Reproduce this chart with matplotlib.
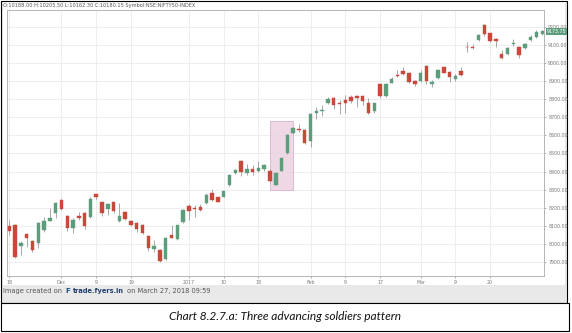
import matplotlib
matplotlib.use("Agg")
import matplotlib.pyplot as plt
from matplotlib.patches import Rectangle
import numpy as np

# ----------------------- DATA ----------------------- #
opens = [8099, 8103, 7988, 8053, 8014, 8007, 8077, 8128, 8169, 8244,
         8154, 8086, 8154, 8169, 8150, 8274, 8230, 8195, 8230, 8127,
         8178, 8128, 8114, 8104, 8044, 7970, 7966, 7915, 8049, 8027,
         8119, 8209, 8196, 8202, 8224, 8279, 8257, 8259, 8325, 8390,
         8458, 8390, 8414, 8401, 8416, 8405, 8327, 8405, 8500, 8611,
         8635, 8629, 8570, 8721, 8732, 8777, 8804, 8778, 8795, 8810,
         8819, 8817, 8777, 8736, 8883, 8817, 8891, 8934, 8955, 8946,
         8900, 8902, 8983, 8885, 8915, 8976, 8952, 8913, 8955, 9090,
         9088, 9127, 9209, 9163, 9134, 9047, 9047, 9103, 9090, 9081,
         9127, 9141, 9160]
highs = [8132, 8108, 8018, 8058, 8022, 8123, 8150, 8200, 8233, 8248,
         8160, 8141, 8178, 8178, 8257, 8278, 8233, 8224, 8232, 8224,
         8183, 8132, 8121, 8108, 8047, 8022, 7970, 8040, 8104, 8104,
         8191, 8219, 8215, 8220, 8279, 8301, 8261, 8294, 8386, 8414,
         8462, 8440, 8436, 8460, 8440, 8416, 8397, 8478, 8605, 8648,
         8662, 8633, 8721, 8758, 8767, 8814, 8814, 8795, 8823, 8823,
         8823, 8823, 8808, 8780, 8891, 8891, 8924, 8959, 8979, 8952,
         8906, 8961, 8988, 8906, 8964, 8979, 8955, 8937, 8976, 9117,
         9103, 9160, 9215, 9167, 9138, 9071, 9090, 9132, 9093, 9108,
         9154, 9182, 9182]
lows = [8049, 7920, 7939, 7981, 7955, 7976, 8068, 8126, 8141, 8187,
        8071, 8062, 8132, 8080, 8146, 8246, 8154, 8160, 8169, 8123,
        8132, 8099, 8068, 8055, 7963, 7957, 7898, 7911, 8031, 8021,
        8117, 8132, 8150, 8182, 8220, 8239, 8230, 8257, 8322, 8386,
        8375, 8379, 8379, 8399, 8405, 8344, 8325, 8401, 8497, 8609,
        8620, 8552, 8537, 8688, 8708, 8773, 8744, 8716, 8725, 8777,
        8758, 8767, 8718, 8725, 8804, 8813, 8887, 8920, 8933, 8891,
        8872, 8896, 8883, 8865, 8911, 8942, 8894, 8900, 8929, 9062,
        9079, 9123, 9150, 9117, 9090, 9022, 9044, 9095, 9025, 9077,
        9123, 9139, 9154]
closes = [8073, 7926, 8003, 8031, 7964, 8117, 8128, 8143, 8226, 8193,
          8086, 8130, 8141, 8101, 8248, 8261, 8169, 8222, 8180, 8156,
          8138, 8104, 8082, 8058, 7979, 7988, 7907, 8034, 8034, 8104,
          8187, 8180, 8191, 8189, 8272, 8242, 8233, 8290, 8381, 8408,
          8399, 8414, 8395, 8417, 8436, 8348, 8393, 8475, 8602, 8640,
          8629, 8559, 8716, 8734, 8742, 8801, 8767, 8771, 8777, 8791,
          8804, 8791, 8725, 8777, 8819, 8882, 8909, 8928, 8939, 8896,
          8882, 8946, 8900, 8896, 8961, 8946, 8924, 8928, 8933, 9086,
          9084, 9154, 9158, 9123, 9121, 9025, 9084, 9110, 9044, 9103,
          9145, 9172, 9173.75]

tick_idx = [0, 9, 15, 21, 31, 37, 43, 52, 58, 64, 71, 77, 83]
tick_labels = ["18", "Dec", "9", "19", "2017", "10", "18", "Feb", "9", "17",
               "Mar", "9", "20"]
price_ticks = list(range(7900, 9201, 100))
last_price = 9173.75

header = "O:10188.00 H:10205.50 L:10162.30 C:10180.15 Symbol:NSE:NIFTY50-INDEX"
caption = "Chart 8.2.7.a: Three advancing soldiers pattern"

# ----------------------- FIGURE ----------------------- #
W, H = 572, 333
fig = plt.figure(figsize=(W / 100, H / 100), dpi=100)
fig.patch.set_facecolor("white")


def px(x, y, w, h):
    """pixel box (top-left origin) -> figure fraction rect"""
    return [x / W, 1 - (y + h) / H, w / W, h / H]


# screenshot background + frames
bg = fig.add_axes([0, 0, 1, 1])
bg.set_xlim(0, W)
bg.set_ylim(H, 0)
bg.axis("off")
bg.add_patch(Rectangle((1, 1), 566, 302, facecolor="#e9e9e9", edgecolor="none"))
bg.add_patch(Rectangle((3, 2), 562, 283, facecolor="white", edgecolor="none"))
bg.add_patch(Rectangle((1, 1), 566, 302, facecolor="none", edgecolor="black", lw=0.8))
bg.add_patch(Rectangle((1, 303), 568, 28, facecolor="white", edgecolor="black", lw=0.8))
bg.text(3, 5.5, header, fontsize=3.6, color="#555555", va="center", ha="left")

# footer line, pieces placed one after another
renderer = fig.canvas.get_renderer()
footer = [("Image created on", "#555555", "normal", 4.8),
          ("F", "#1f4e8c", "bold", 5.2),
          ("trade.fyers.in", "#1f3f6e", "bold", 4.8),
          ("on March 27, 2018 09:59", "#555555", "normal", 4.8)]
fx = 3
for txt, col, wt, fs in footer:
    t = bg.text(fx, 291, txt, fontsize=fs, color=col, fontweight=wt, va="center")
    bb = t.get_window_extent(renderer)
    fx += bb.width + 3

bg.text(285, 317, caption, fontsize=8.6, style="italic", family="Lato",
        ha="center", va="center", color="#111111")

# price chart
ax = fig.add_axes(px(7, 10, 537, 266))
x = np.arange(len(opens))
o = np.array(opens, dtype=float)
c = np.array(closes, dtype=float)
up = c >= o
colors = np.where(up, "#5c9e7b", "#c9473b")

ax.vlines(x, lows, highs, color="#9a9a9a", lw=0.6, zorder=3)
body_h = np.maximum(np.abs(c - o), 2.5)
ax.bar(x, body_h, bottom=np.minimum(o, c), width=0.6, color=colors,
       edgecolor=colors, lw=0.3, zorder=4)

# highlight of the three advancing soldiers
ax.add_patch(Rectangle((44.95, 8298), 4.05, 383, facecolor="#ebcfe0",
                       edgecolor="#d6a3c2", lw=0.6, alpha=0.8, zorder=2))

ax.set_xlim(-0.4, 92.3)
ax.set_ylim(7823, 9292)
ax.set_xticks(tick_idx)
ax.set_xticklabels(tick_labels)
ax.set_yticks(price_ticks)
ax.set_yticklabels([f"{v:.2f}" for v in price_ticks])
ax.yaxis.tick_right()
ax.tick_params(axis="both", labelsize=3.4, colors="#777777", length=1.5,
               width=0.4, pad=1.5)
ax.grid(True, color="#ebebeb", lw=0.6, zorder=0)
ax.set_axisbelow(True)
for s in ax.spines.values():
    s.set_color("#b5b5b5")
    s.set_linewidth(0.7)

ax.annotate(f"{last_price:.2f}", xy=(1.0, last_price),
            xycoords=("axes fraction", "data"), xytext=(2, 0),
            textcoords="offset points", fontsize=3.4, color="white",
            va="center", ha="left",
            bbox=dict(boxstyle="square,pad=0.15", fc="#5c9e7b", ec="none"))

fig.savefig("out.png", dpi=100)
